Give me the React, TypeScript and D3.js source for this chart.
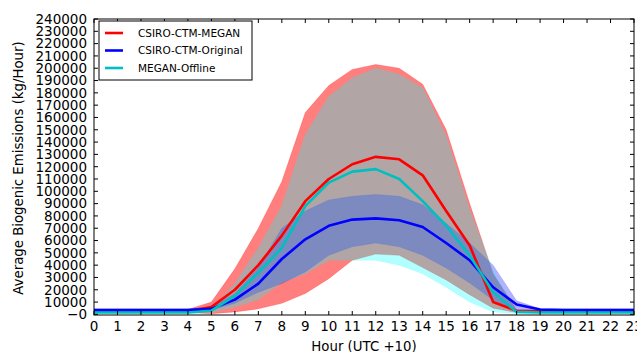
import React from "react";
import * as d3 from "d3";

const hours = d3.range(0, 24);
const xTickLabels = hours.map((h) => String(h));
const yTicks = d3.range(0, 240001, 10000);

const seriesNames = ["CSIRO-CTM-MEGAN", "CSIRO-CTM-Original", "MEGAN-Offline"];

const megan = [2500, 2500, 2500, 2500, 2500, 6000, 20000, 40000, 64000, 92000, 110000, 122000, 128000, 126000, 113000, 84000, 56000, 10000, 3000, 2500, 2500, 2500, 2500, 2500];
const meganUpper = [4000, 4000, 4000, 4000, 4000, 10000, 37000, 70000, 108000, 164000, 186000, 199000, 203000, 200000, 187000, 150000, 90000, 33000, 3500, 3500, 3500, 3500, 3500, 3500];
const meganLower = [1500, 1500, 1500, 1500, 1500, 500, 2000, 4500, 9000, 17000, 29000, 44000, 49000, 48000, 38000, 28000, 16000, 5000, 1500, 1500, 1500, 1500, 1500, 1500];

const original = [3500, 3500, 3500, 3500, 3500, 4500, 12000, 25000, 45000, 61000, 72000, 77000, 78000, 76500, 71000, 58000, 44000, 22000, 8000, 4000, 3500, 3500, 3500, 3500];
const originalUpper = [4500, 4500, 4500, 4500, 4500, 6000, 17000, 38000, 70000, 84000, 93000, 96000, 97500, 96000, 89000, 74000, 58000, 40000, 11000, 4500, 4500, 4500, 4500, 4500];
const originalLower = [2500, 2500, 2500, 2500, 2500, 3500, 9000, 18000, 25000, 34500, 48000, 55000, 58000, 55000, 48000, 37700, 25500, 11700, 3500, 2500, 2500, 2500, 2500, 2500];

const offline = [1500, 1500, 1500, 1500, 1500, 3000, 15000, 34000, 54000, 88000, 107000, 116000, 118000, 110000, 92000, 72000, 48000, 18000, 2000, 1500, 1500, 1500, 1500, 1500];
const offlineUpper = [2500, 2500, 2500, 2500, 2500, 4000, 25000, 54000, 88000, 146000, 177000, 192000, 200000, 195000, 184000, 145000, 85000, 35000, 2500, 2500, 2500, 2500, 2500, 2500];
const offlineLower = [800, 800, 800, 800, 800, 1500, 6000, 12000, 26000, 33000, 44000, 44000, 44000, 40000, 33000, 22000, 10000, 2000, 800, 800, 800, 800, 800, 800];

const W = 637;
const H = 352;
const left = 94;
const right = 634;
const top = 19;
const bottom = 315;
const FONT = "DejaVu Sans, sans-serif";

export default function App() {
  const x = d3.scaleLinear().domain([0, 23]).range([left, right]);
  const y = d3.scaleLinear().domain([-500, 240000]).range([bottom, top]);

  const band = (up: number[], lo: number[]) =>
    d3
      .area<number>()
      .x((h) => x(h))
      .y0((h) => y(lo[h]))
      .y1((h) => y(up[h]))(hours) as string;
  const line = (vals: number[]) =>
    d3
      .line<number>()
      .x((h) => x(h))
      .y((h) => y(vals[h]))(hours) as string;

  const bands = [
    { up: meganUpper, lo: meganLower, color: "#ff0000", alpha: 0.5 },
    { up: originalUpper, lo: originalLower, color: "#0000ff", alpha: 0.3 },
    { up: offlineUpper, lo: offlineLower, color: "#00ffff", alpha: 0.3 },
  ];
  const lines = [
    { vals: megan, color: "#ff0000" },
    { vals: original, color: "#0000ff" },
    { vals: offline, color: "#00bfbf" },
  ];
  const legendColors = ["#ff0000", "#0000ff", "#00bfbf"];

  return (
    <svg
      width={W}
      height={H}
      style={{ position: "absolute", left: 0, top: 0, background: "#fff" }}
      fontFamily={FONT}
    >
      <rect x={0} y={0} width={W} height={H} fill="#fff" />
      <defs>
        <clipPath id="plot">
          <rect x={left} y={top} width={right - left} height={bottom - top} />
        </clipPath>
      </defs>
      <g clipPath="url(#plot)">
        {bands.map((b, i) => (
          <path
            key={i}
            d={band(b.up, b.lo)}
            fill={b.color}
            fillOpacity={b.alpha}
            stroke={b.color}
            strokeOpacity={b.alpha * 0.5}
            strokeWidth={0.8}
          />
        ))}
        {lines.map((l, i) => (
          <path
            key={i}
            d={line(l.vals)}
            fill="none"
            stroke={l.color}
            strokeWidth={2.6}
            strokeLinejoin="round"
          />
        ))}
      </g>
      {/* frame */}
      <rect x={left} y={top} width={right - left} height={bottom - top} fill="none" stroke="#000" strokeWidth={1} />
      {/* x ticks */}
      {hours.map((h, i) => (
        <g key={h}>
          <line x1={x(h)} x2={x(h)} y1={bottom} y2={bottom - 4} stroke="#000" />
          <line x1={x(h)} x2={x(h)} y1={top} y2={top + 4} stroke="#000" />
          <text x={x(h)} y={331} textAnchor="middle" fontSize={13.5} fill="#000">
            {xTickLabels[i]}
          </text>
        </g>
      ))}
      {/* y ticks */}
      {yTicks.map((t) => (
        <g key={t}>
          <line x1={left} x2={left + 4} y1={y(t)} y2={y(t)} stroke="#000" />
          <line x1={right} x2={right - 4} y1={y(t)} y2={y(t)} stroke="#000" />
          <text x={87} y={y(t)} dy="0.36em" textAnchor="end" fontSize={13.5} fill="#000">
            {t === 0 ? "\u22120" : String(t)}
          </text>
        </g>
      ))}
      <text x={(left + right) / 2} y={351} textAnchor="middle" fontSize={13.3} fill="#000">
        Hour (UTC +10)
      </text>
      <text
        transform={`translate(23, ${(top + bottom) / 2 + 1}) rotate(-90)`}
        textAnchor="middle"
        fontSize={13.3}
        fill="#000"
      >
        Average Biogenic Emissions (kg/Hour)
      </text>
      {/* legend */}
      <rect x={99} y={21} width={153} height={59} fill="#fff" stroke="#000" strokeWidth={1} />
      {seriesNames.map((n, i) => {
        const ly = 33 + i * 17.5;
        return (
          <g key={n}>
            <line x1={105} x2={123} y1={ly} y2={ly} stroke={legendColors[i]} strokeWidth={2.6} />
            <text x={138} y={ly} dy="0.35em" fontSize={10.5} fill="#000">
              {n}
            </text>
          </g>
        );
      })}
    </svg>
  );
}
